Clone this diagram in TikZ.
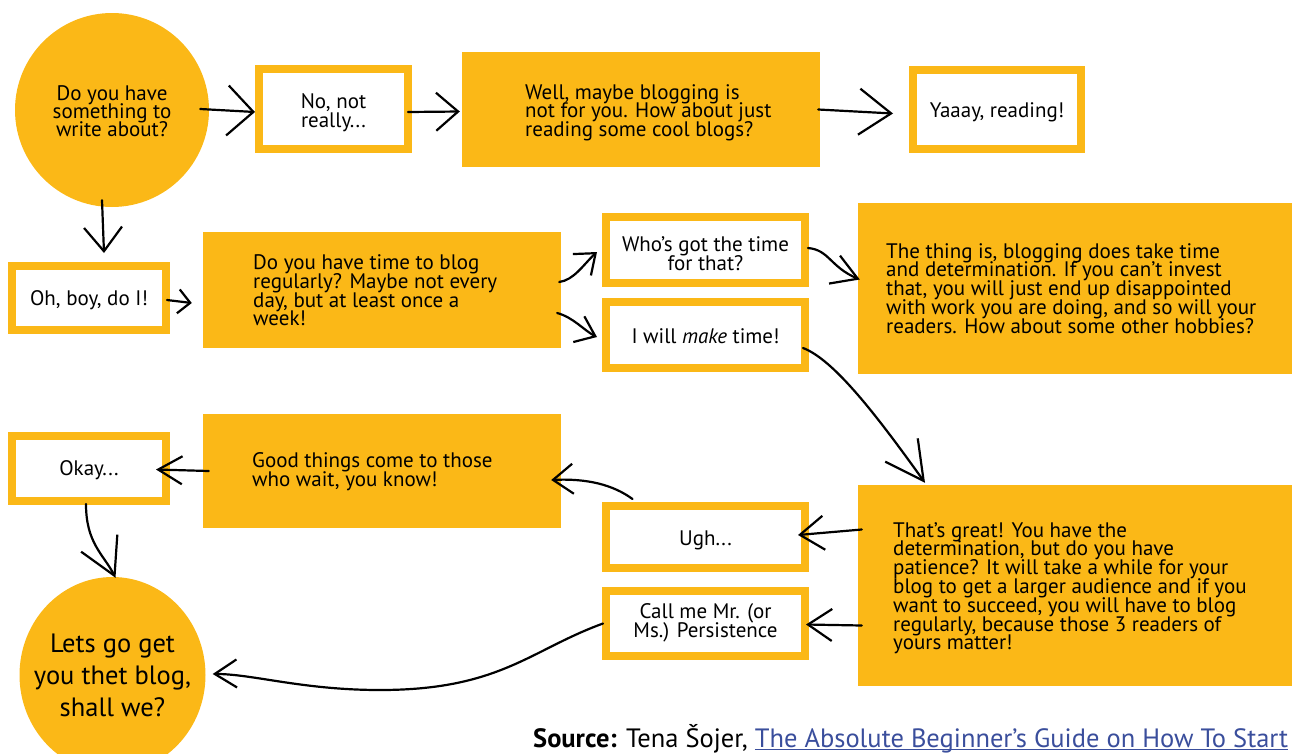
\documentclass[tikz,border=0pt]{standalone}
\usepackage{fontspec}
\setmainfont{PT Sans}
\usetikzlibrary{arrows.meta,bending,shapes.geometric}
\definecolor{ylw}{HTML}{FBB817}
\definecolor{lnk}{HTML}{3A4E9C}
\newcommand\linkul[1]{\setbox0\hbox{#1}\rlap{\rule[-3pt]{\wd0}{1.1pt}}\box0}
\begin{document}
\begin{tikzpicture}[x=1pt,y=-1pt,
  txt/.style={font={\fontsize{21}{18.8}\selectfont\lineskiplimit=-30pt}, text=black},
  frame/.style={draw=ylw, line width=8pt, fill=white, inner sep=0pt},
  ftext/.style={align=center, inner sep=0pt, txt},
  block/.style={fill=ylw, inner sep=0pt},
  para/.style={align=left, inner sep=0pt, anchor=north west, txt},
  conn/.style={line width=2.2pt, line cap=round, line join=round, black},
  hd/.style 2 args={-{Straight Barb[length=#1pt,width=#2pt,line width=2.2pt]}},
]
\useasboundingbox (0,0) rectangle (1292,753);
\clip (0,0) rectangle (1292,753);

% nodes
\node[circle, fill=ylw, minimum size=194pt, inner sep=0pt] (c1) at (112,110) {};
\node[align=center, inner sep=0pt, txt, font={\fontsize{21}{18.3}\selectfont\lineskiplimit=-30pt}] (c1t) at (112,111) {Do you have\\something to\\write about?};
\node[frame, minimum width=149pt, minimum height=80pt] (nonot) at (333.5,109) {};
\node[ftext] (nonott) at (333.5,112.5) {No, not\\really...};
\node[block, minimum width=358pt, minimum height=115pt] (well) at (641,109.5) {};
\node[para] (wellt) at (525,84) {Well, maybe blogging is\\not for you. How about just\\reading some cool blogs?};
\node[frame, minimum width=168pt, minimum height=79pt] (yaaay) at (997,109.5) {};
\node[ftext] (yaaayt) at (997,112) {Yaaay, reading!};

\node[frame, minimum width=154pt, minimum height=64pt] (ohboy) at (89,298) {};
\node[ftext] (ohboyt) at (89,300) {Oh, boy, do I!};
\node[block, minimum width=358pt, minimum height=116pt] (dotime) at (382,290) {};
\node[para] (dotimet) at (253,254.5) {Do you have time to blog\\regularly? Maybe not every\\day, but at least once a\\week!};
\node[frame, minimum width=199pt, minimum height=66pt] (whos) at (705.5,250) {};
\node[ftext] (whost) at (705.5,253.5) {Who’s got the time\\for that?};
\node[frame, minimum width=199pt, minimum height=66pt] (make) at (705.5,335) {};
\node[ftext] (maket) at (705.5,336.5) {I will \emph{make} time!};
\node[block, minimum width=434pt, minimum height=171pt] (thing) at (1075,288.5) {};
\node[para] (thingt) at (886,243) {The thing is, blogging does take time\\and determination. If you can’t invest\\that, you will just end up disappointed\\with work you are doing, and so will your\\readers. How about some other hobbies?};

\node[frame, minimum width=154pt, minimum height=65pt] (okay) at (89,468.5) {};
\node[ftext] (okayt) at (89,470.5) {Okay...};
\node[block, minimum width=358pt, minimum height=114pt] (good) at (382,471) {};
\node[para] (goodt) at (252,452.5) {Good things come to those\\who wait, you know!};
\node[frame, minimum width=199pt, minimum height=62pt] (ugh) at (705.5,537) {};
\node[ftext] (ught) at (705.5,540) {Ugh...};
\node[frame, minimum width=199pt, minimum height=65pt] (callme) at (705.5,623.5) {};
\node[ftext] (callmet) at (705.5,623) {Call me Mr. (or\\Ms.) Persistence};
\node[block, minimum width=434pt, minimum height=201pt] (great) at (1075,585.5) {};
\node[para] (greatt) at (893,522) {That’s great! You have the\\determination, but do you have\\patience? It will take a while for your\\blog to get a larger audience and if you\\want to succeed, you will have to blog\\regularly, because those 3 readers of\\yours matter!};

\node[ellipse, fill=ylw, minimum width=186pt, minimum height=196pt, inner sep=0pt] (lets) at (112.5,675) {};
\node[align=center, inner sep=0pt, font={\fontsize{26.5}{32}\selectfont\lineskiplimit=-30pt}] (letst) at (112.5,675) {Lets go get\\you thet blog,\\shall we?};

\node[anchor=base west, inner sep=0pt, font=\fontsize{26.5}{26.5}\selectfont] (src) at (533,747) {\textbf{Source:} Tena Šojer, \textcolor{lnk}{\linkul{The Absolute Beginner’s Guide on How To Start}}};

% connectors
\draw[conn, hd={26}{50}] ([xshift=-9pt,yshift=1pt]c1.east) -- ([yshift=-3pt]nonot.west);
\draw[conn, hd={22}{38}] ([xshift=-4pt,yshift=-3pt]nonot.east) -- ([xshift=-2pt,yshift=-2pt]well.west);
\draw[conn, hd={32}{46}] ([xshift=-2pt]well.east) -- ([xshift=-16pt,yshift=-4pt]yaaay.west);
\draw[conn, hd={24}{38}] ([xshift=-10pt,yshift=7pt]c1.south) -- ([xshift=15pt,yshift=9pt]ohboy.north);
\draw[conn, hd={12}{24}] ([xshift=-3pt,yshift=-2pt]ohboy.east) -- ([xshift=-11pt,yshift=-13pt]dotime.west);
\draw[conn, hd={18}{28}] ([xshift=-2pt,yshift=8pt]dotime.east) .. controls (575,280) and (585,262) .. ([xshift=-5pt,yshift=-2pt]whos.west);
\draw[conn, hd={18}{28}] ([xshift=-4pt,yshift=-23pt]dotime.east) .. controls (575,318) and (585,332) .. ([xshift=-5pt,yshift=-2pt]make.west);
\draw[conn, hd={25}{30}] ([xshift=-1pt,yshift=2pt]whos.east) .. controls (830,250) and (830,268) .. ([xshift=2pt,yshift=9pt]thing.west);
\draw[conn, hd={38}{40}] ([xshift=-6pt,yshift=-13pt]make.east) .. controls (835,360) and (880,420) .. ([xshift=-150pt,yshift=2pt]great.north);
\draw[conn, hd={24}{34}] ([xshift=4pt,yshift=56pt]great.west) -- ([xshift=-11pt,yshift=2pt]ugh.east);
\draw[conn, hd={24}{32}] ([xshift=4pt,yshift=-40pt]great.west) -- ([xshift=-3pt,yshift=-1pt]callme.east);
\draw[conn, hd={20}{30}] ([xshift=-73pt,yshift=3pt]ugh.north) .. controls (612,484) and (585,478) .. ([xshift=-10pt,yshift=-9pt]good.east);
\draw[conn, hd={24}{28}] ([xshift=6pt]good.west) -- ([xshift=-14pt,yshift=-1pt]okay.east);
\draw[conn, hd={36}{40}] ([xshift=-3pt,yshift=1pt]okay.south) .. controls (86,545) and (105,555) .. ([xshift=3pt,yshift=-1pt]lets.north);
\draw[conn, hd={22}{28}] ([xshift=1pt]callme.west) .. controls (530,650) and (500,690) .. (380,690) .. controls (300,690) and (250,673) .. ([xshift=7pt,yshift=1pt]lets.east);
\end{tikzpicture}
\end{document}
